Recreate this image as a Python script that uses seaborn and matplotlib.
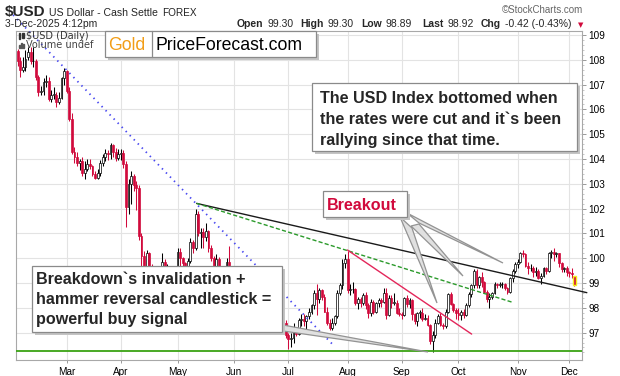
# ================= IMPORT PACKAGES =================
import numpy as np
import pandas as pd
import matplotlib
matplotlib.use("Agg")
import matplotlib.pyplot as plt
from matplotlib.patches import Rectangle, Polygon
import seaborn as sns

# ================= INPUT DATA =================
# daily $USD candles (open, high, low, close), one list per month
feb = [
    (108.35, 108.45, 107.75, 107.95), (107.95, 108.10, 107.30, 107.60), (107.60, 108.10, 107.50, 107.70),
    (107.70, 108.40, 107.55, 108.05), (108.10, 108.50, 108.00, 108.30), (108.30, 108.50, 107.85, 107.95),
    (107.95, 108.50, 107.70, 107.95), (107.95, 108.05, 107.20, 107.30), (107.30, 107.40, 106.55, 106.70),
    (106.70, 106.95, 106.60, 106.75), (106.75, 107.25, 106.60, 107.10), (107.10, 107.40, 106.90, 107.15),
    (107.15, 107.30, 106.35, 106.40), (106.40, 106.80, 106.30, 106.60), (106.60, 106.90, 106.40, 106.60),
    (106.60, 106.70, 106.10, 106.30), (106.30, 106.70, 106.20, 106.45), (106.45, 107.30, 106.40, 107.25),
    (107.25, 107.65, 107.00, 107.55),
]
mar = [
    (107.55, 107.60, 106.65, 106.75), (106.75, 106.90, 105.55, 105.60), (105.60, 105.85, 104.20, 104.30),
    (104.30, 104.50, 103.85, 104.10), (104.10, 104.30, 103.70, 103.85), (103.85, 104.00, 103.55, 103.90),
    (103.90, 104.10, 103.30, 103.45), (103.45, 103.90, 103.20, 103.60), (103.60, 104.00, 103.50, 103.80),
    (103.80, 104.00, 103.60, 103.70), (103.70, 103.75, 103.30, 103.40), (103.40, 103.50, 103.20, 103.25),
    (103.25, 103.60, 103.20, 103.45), (103.45, 103.95, 103.30, 103.85), (103.85, 104.20, 103.70, 104.10),
    (104.10, 104.40, 103.90, 104.25), (104.25, 104.35, 103.95, 104.20), (104.20, 104.65, 104.00, 104.55),
    (104.55, 104.60, 104.10, 104.30), (104.30, 104.45, 103.90, 104.05), (104.05, 104.40, 103.95, 104.20),
]
apr = [
    (104.20, 104.40, 103.95, 104.25), (104.25, 104.35, 103.65, 103.80), (103.80, 103.90, 101.25, 102.05),
    (102.05, 103.20, 101.80, 103.00), (103.00, 103.50, 102.20, 103.30), (103.30, 103.40, 102.70, 102.95),
    (102.95, 103.10, 101.95, 102.85), (102.85, 102.95, 100.75, 100.90), (100.90, 101.00, 99.00, 100.10),
    (100.10, 100.30, 99.20, 99.65), (99.65, 100.35, 99.50, 100.20), (100.20, 100.25, 99.25, 99.40),
    (99.40, 99.75, 99.20, 99.35), (99.35, 99.45, 99.10, 99.20), (99.20, 99.30, 97.90, 98.35),
    (98.35, 99.00, 98.20, 98.90), (98.90, 100.20, 98.85, 99.85), (99.85, 99.95, 99.20, 99.30),
    (99.30, 99.75, 99.20, 99.55), (99.55, 99.60, 98.90, 98.95), (98.95, 99.40, 98.80, 99.20),
    (99.20, 99.70, 99.00, 99.45),
]
may = [
    (99.45, 100.40, 99.40, 100.25), (100.25, 100.40, 99.65, 100.00), (100.00, 100.05, 99.50, 99.80),
    (99.80, 99.85, 99.15, 99.25), (99.25, 100.00, 99.10, 99.90), (99.90, 100.80, 99.80, 100.65),
    (100.65, 100.75, 100.20, 100.40), (100.40, 102.00, 100.35, 101.80), (101.80, 101.90, 100.90, 101.00),
    (101.00, 101.20, 100.40, 101.05), (101.05, 101.20, 100.40, 100.85), (100.85, 101.40, 100.70, 101.10),
    (101.10, 101.15, 100.25, 100.40), (100.40, 100.55, 99.90, 100.00), (100.00, 100.10, 99.40, 99.55),
    (99.55, 100.15, 99.50, 99.95), (99.95, 100.05, 99.00, 99.10), (99.10, 99.20, 98.70, 98.95),
    (98.95, 99.60, 98.70, 99.50), (99.50, 100.00, 99.40, 99.85), (99.85, 100.50, 99.10, 99.30),
    (99.30, 99.50, 99.00, 99.35),
]
jun = [
    (99.35, 99.40, 98.60, 98.70), (98.70, 99.35, 98.55, 99.25), (99.25, 99.40, 98.70, 98.80),
    (98.80, 99.20, 98.40, 98.75), (98.75, 99.40, 98.70, 99.20), (99.20, 99.30, 98.85, 98.95),
    (98.95, 99.30, 98.90, 99.10), (99.10, 99.35, 98.60, 98.65), (98.65, 98.70, 97.60, 97.90),
    (97.90, 98.60, 97.75, 98.20), (98.20, 98.30, 97.95, 98.00), (98.00, 98.90, 97.90, 98.85),
    (98.85, 99.05, 98.60, 98.90), (98.90, 99.00, 98.70, 98.90), (98.90, 99.10, 98.50, 98.70),
    (98.70, 99.40, 98.40, 98.45), (98.45, 98.50, 97.80, 97.90), (97.90, 98.00, 97.60, 97.70),
    (97.70, 97.80, 97.05, 97.15), (97.15, 97.50, 97.00, 97.40), (97.40, 97.50, 96.80, 96.90),
]
jul = [
    (96.90, 97.00, 96.35, 96.75), (96.75, 97.00, 96.40, 96.80), (96.80, 97.40, 96.60, 97.10),
    (97.10, 97.20, 96.85, 96.95), (96.95, 97.60, 96.90, 97.50), (97.50, 97.75, 97.25, 97.55),
    (97.55, 97.75, 97.25, 97.45), (97.45, 97.70, 97.10, 97.65), (97.65, 98.00, 97.55, 97.85),
    (97.85, 98.15, 97.75, 98.10), (98.10, 98.70, 97.95, 98.60), (98.60, 98.95, 97.70, 98.35),
    (98.35, 98.80, 98.20, 98.70), (98.70, 98.75, 98.30, 98.45), (98.45, 98.55, 97.85, 97.85),
    (97.85, 98.05, 97.30, 97.40), (97.40, 97.55, 97.10, 97.20), (97.20, 97.60, 97.10, 97.40),
    (97.40, 97.70, 97.30, 97.65), (97.65, 98.70, 97.60, 98.60), (98.60, 99.00, 98.50, 98.90),
    (98.90, 99.95, 98.75, 99.80), (99.80, 100.15, 99.60, 99.95),
]
aug = [
    (99.95, 100.30, 98.60, 98.70), (98.70, 98.95, 98.50, 98.75), (98.75, 99.05, 98.60, 98.75),
    (98.75, 98.80, 98.10, 98.20), (98.20, 98.45, 97.95, 98.35), (98.35, 98.45, 98.05, 98.20),
    (98.20, 98.60, 98.10, 98.50), (98.50, 98.65, 97.95, 98.10), (98.10, 98.20, 97.60, 97.80),
    (97.80, 98.35, 97.65, 98.25), (98.25, 98.30, 97.75, 97.85), (97.85, 98.25, 97.80, 98.20),
    (98.20, 98.40, 98.05, 98.30), (98.30, 98.40, 98.05, 98.25), (98.25, 98.80, 98.20, 98.60),
    (98.60, 98.80, 97.55, 97.70), (97.70, 98.50, 97.65, 98.40), (98.40, 98.50, 98.00, 98.20),
    (98.20, 98.60, 98.10, 98.20), (98.20, 98.30, 97.75, 97.80), (97.80, 98.00, 97.65, 97.75),
]
sep = [
    (97.75, 97.85, 97.55, 97.70), (97.70, 98.45, 97.65, 98.40), (98.40, 98.50, 98.05, 98.15),
    (98.15, 98.40, 98.00, 98.30), (98.30, 98.35, 97.50, 97.75), (97.75, 97.80, 97.35, 97.45),
    (97.45, 97.85, 97.25, 97.80), (97.80, 97.90, 97.60, 97.80), (97.80, 98.00, 97.45, 97.55),
    (97.55, 97.75, 97.50, 97.60), (97.60, 97.70, 97.25, 97.30), (97.30, 97.35, 96.55, 96.65),
    (96.65, 97.05, 96.20, 96.90), (96.90, 97.55, 96.80, 97.40), (97.40, 97.75, 97.35, 97.65),
    (97.65, 97.80, 97.25, 97.30), (97.30, 97.40, 97.15, 97.25), (97.25, 97.95, 97.20, 97.85),
    (97.85, 98.60, 97.80, 98.55), (98.55, 98.65, 98.10, 98.15), (98.15, 98.20, 97.85, 97.90),
    (97.90, 98.00, 97.55, 97.80),
]
oct_ = [
    (97.80, 98.00, 97.50, 97.70), (97.70, 97.90, 97.50, 97.85), (97.85, 97.95, 97.60, 97.70),
    (97.70, 98.20, 97.65, 98.10), (98.10, 98.65, 98.05, 98.55), (98.55, 98.95, 98.45, 98.90),
    (98.90, 99.55, 98.80, 99.50), (99.50, 99.55, 98.80, 98.90), (98.90, 99.30, 98.80, 99.25),
    (99.25, 99.45, 98.85, 99.05), (99.05, 99.10, 98.60, 98.65), (98.65, 98.70, 98.25, 98.35),
    (98.35, 98.60, 98.00, 98.45), (98.45, 98.65, 98.35, 98.60), (98.60, 99.05, 98.55, 98.95),
    (98.95, 99.00, 98.80, 98.90), (98.90, 99.05, 98.85, 98.95), (98.95, 99.05, 98.80, 98.95),
    (98.95, 99.00, 98.70, 98.80), (98.80, 98.85, 98.55, 98.65), (98.65, 99.25, 98.60, 99.20),
    (99.20, 99.55, 99.05, 99.50), (99.50, 99.85, 99.40, 99.75),
]
nov = [
    (99.75, 99.95, 99.60, 99.85), (99.85, 100.25, 99.80, 100.20), (100.20, 100.35, 100.05, 100.15),
    (100.15, 100.20, 99.65, 99.70), (99.70, 99.85, 99.35, 99.60), (99.60, 99.75, 99.50, 99.60),
    (99.60, 99.70, 99.25, 99.45), (99.45, 99.65, 99.30, 99.50), (99.50, 99.55, 99.15, 99.20),
    (99.20, 99.40, 98.95, 99.30), (99.30, 99.65, 99.25, 99.60), (99.60, 99.65, 99.35, 99.50),
    (99.50, 100.25, 99.45, 100.20), (100.20, 100.35, 100.00, 100.25), (100.25, 100.40, 99.90, 100.15),
    (100.15, 100.25, 100.05, 100.20), (100.20, 100.20, 99.65, 99.80), (99.80, 99.85, 99.45, 99.55),
    (99.55, 99.65, 99.45, 99.60), (99.60, 99.70, 99.30, 99.45),
]
dec = [
    (99.45, 99.50, 99.25, 99.40), (99.40, 99.60, 99.20, 99.35), (99.30, 99.30, 98.89, 98.92),
]

# hand drawn lines on the chart: (bar number, price)
blue_line = [(-1.8, 109.81), (122.4, 96.50)]
black_line = [(69.4, 102.21), (220.8, 98.61)]
green_line = [(69.4, 102.21), (192.0, 98.22)]
red_line = [(127.9, 100.33), (176.1, 96.94)]
support_level = 96.26

y_ticks = list(range(97, 110))

# ================= PREPARE =================
df = pd.DataFrame(feb + mar + apr + may + jun + jul + aug + sep + oct_ + nov + dec,
                  columns=["open", "high", "low", "close"])
df["date"] = pd.bdate_range("2025-02-04", periods=len(df))
df["i"] = np.arange(len(df))

RED = "#d10a3c"
prev_close = df["close"].shift(1).fillna(df["open"])
df["col"] = np.where(df["close"] < prev_close, RED, "black")
df["face"] = np.where(df["close"] < df["open"], df["col"], "white")

month_first = df.groupby(df["date"].dt.to_period("M"))["i"].min().iloc[1:]
month_lbl = [df.loc[k, "date"].strftime("%b") for k in month_first]

# ================= PLOT =================
sns.set_theme(style="whitegrid", rc={"grid.color": "#e3e3e3", "grid.linewidth": 0.8})
plt.rcParams["font.family"] = ["Liberation Sans", "DejaVu Sans"]

W, H = 620, 376
fig = plt.figure(figsize=(W / 100, H / 100), dpi=100)
fig.patch.set_facecolor("white")


def P(x, y):
    # pixel position (from top left) -> figure fraction
    return (x / W, 1 - y / H)


ax = fig.add_axes([16 / W, 1 - 360 / H, 565.5 / W, 329 / H])
ax.set_facecolor("white")

# candles
ax.vlines(df["i"], df["low"], df["high"], colors=df["col"], lw=0.75, zorder=2)
body = (df["close"] - df["open"]).abs().clip(lower=0.02)
ax.bar(df["i"], body, bottom=df[["open", "close"]].min(axis=1), width=0.72,
       color=df["face"], edgecolor=df["col"], linewidth=0.5, zorder=3)
last = df.iloc[-1]
ax.bar(last["i"], abs(last["close"] - last["open"]), bottom=min(last["open"], last["close"]),
       width=1.3, color=RED, edgecolor="#f4ef1c", linewidth=1.0, zorder=4)

# support + trendlines
ax.axhline(support_level, color="#3aa314", lw=1.3, zorder=4)
lines = [
    (blue_line, dict(color="#4848f0", lw=1.3, linestyle=(0, (0.8, 2.4)))),
    (black_line, dict(color="#1a1a1a", lw=1.0, linestyle="-")),
    (green_line, dict(color="#2b9a2b", lw=1.0, linestyle=(0, (3, 1.6)))),
    (red_line, dict(color="#e3265a", lw=1.0, linestyle="-")),
]
for pts, kw in lines:
    xs, ys = zip(*pts)
    sns.lineplot(x=list(xs), y=list(ys), ax=ax, clip_on=False, zorder=5, **kw)

ax.set_xlim(-0.67, 218.73)
ax.set_ylim(95.895, 109.161)
ax.set_xlabel("")
ax.set_ylabel("")

ax.yaxis.tick_right()
ax.set_yticks(y_ticks)
ax.set_yticks(np.arange(96.2, 109.2, 0.2), minor=True)
ax.tick_params(axis="y", which="major", right=True, length=3, width=0.7, color="#9a9a9a",
               pad=2, labelsize=7.2, labelcolor="black")
ax.tick_params(axis="y", which="minor", right=True, length=1.5, width=0.5, color="#b0b0b0")
ax.set_xticks(list(month_first))
ax.set_xticklabels(month_lbl)
ax.tick_params(axis="x", bottom=True, length=2, width=0.7, color="#9a9a9a", pad=3,
               labelsize=7.2, labelcolor="black")
ax.grid(True, which="major", color="#e3e3e3", lw=0.8)
ax.grid(False, which="minor")
ax.set_axisbelow(True)
for s in ax.spines.values():
    s.set_color("#a8a8a8")
    s.set_linewidth(0.8)

# legend inside the chart
fig.add_artist(Rectangle(P(19, 39), 1 / W, 6 / H, transform=fig.transFigure, color="#333", zorder=6))
fig.add_artist(Rectangle(P(22, 38), 1.5 / W, 5 / H, transform=fig.transFigure, color="#333", zorder=6))
for k, hgt in enumerate([3, 5, 4]):
    fig.add_artist(Rectangle(P(19 + 2 * k, 48), 1.2 / W, hgt / H, transform=fig.transFigure,
                             color="#555", zorder=6))
fig.text(*P(26, 39), "$USD (Daily)", fontsize=7, color="#333", family=["DejaVu Sans"], va="baseline")
fig.text(*P(26, 48.5), "Volume undef", fontsize=7, color="#444", family=["DejaVu Sans"], va="baseline")

# callout wedges
grey_fill, grey_edge = "#e0e0e0", "#939393"
wedges = [
    [(283, 325), (283, 331), (428, 352)],
    [(400, 217), (412, 228), (437, 303)],
    [(411, 226), (419, 224), (463, 276)],
    [(407, 213), (419, 223), (503, 263)],
]
for w in wedges:
    fig.add_artist(Polygon([P(*p) for p in w], closed=True, transform=fig.transFigure,
                           facecolor=grey_fill, edgecolor=grey_edge, lw=0.9, zorder=7))


def box(x0, y0, x1, y1):
    fig.add_artist(Rectangle(P(x0 + 3, y1 + 3), (x1 - x0) / W, (y1 - y0) / H,
                             transform=fig.transFigure, facecolor="#c4c4c4", edgecolor="none", zorder=8))
    fig.add_artist(Rectangle(P(x0, y1), (x1 - x0) / W, (y1 - y0) / H, transform=fig.transFigure,
                             facecolor="white", edgecolor="#8a8a8a", lw=0.9, zorder=9))


# Gold | PriceForecast.com
box(105, 31, 316, 57)
fig.add_artist(plt.Line2D([152 / W, 152 / W], [1 - 31 / H, 1 - 57 / H], transform=fig.transFigure,
                          color="#8a8a8a", lw=0.9, zorder=10))
fig.text(*P(108, 50), "Gold", fontsize=12.7, color="#f29d16", va="baseline", zorder=11)
fig.text(*P(156, 50), "PriceForecast.com", fontsize=12.7, color="black", va="baseline", zorder=11)

# comment boxes
box(312, 83, 577, 151)
for k, t in enumerate(["The USD Index bottomed when", "the rates were cut and it`s been",
                       "rallying since that time."]):
    fig.text(*P(320, 103 + 21 * k), t, fontsize=11.6, weight="bold", va="baseline", zorder=11)

box(32, 266, 282, 332)
for k, t in enumerate(["Breakdown`s invalidation +", "hammer reversal candlestick =",
                       "powerful buy signal"]):
    fig.text(*P(36, 284 + 20 * k), t, fontsize=11.6, weight="bold", va="baseline", zorder=11)

box(323, 191, 407, 217)
fig.text(*P(327, 210), "Breakout", fontsize=11.6, weight="bold", color=RED, va="baseline", zorder=11)

# header
fig.text(*P(5, 16), "$USD", fontsize=11, weight="bold", va="baseline")
fig.text(*P(49, 16), "US Dollar - Cash Settle", fontsize=7.6, va="baseline")
fig.text(*P(162, 16), "FOREX", fontsize=7.2, va="baseline", color="#222")
fig.text(*P(583, 13), "\u00a9StockCharts.com", fontsize=7, color="#666", ha="right", va="baseline")
fig.text(*P(5, 27), "3-Dec-2025 4:12pm", fontsize=7.5, va="baseline")
hdr = [("Open", 237, True), ("99.30", 268, False), ("High", 300, True), ("99.30", 328, False),
       ("Low", 361, True), ("98.89", 386, False), ("Last", 422, True), ("98.92", 448, False),
       ("Chg", 481, True), ("-0.42 (-0.43%)", 505, False)]
for t, x, b in hdr:
    fig.text(*P(x, 27), t, fontsize=7.5, weight="bold" if b else "normal", va="baseline")
fig.text(*P(578, 27), "\u25bc", fontsize=5, color=RED, va="baseline", family=["DejaVu Sans"])

fig.savefig("out.png", dpi=100, facecolor="white")
